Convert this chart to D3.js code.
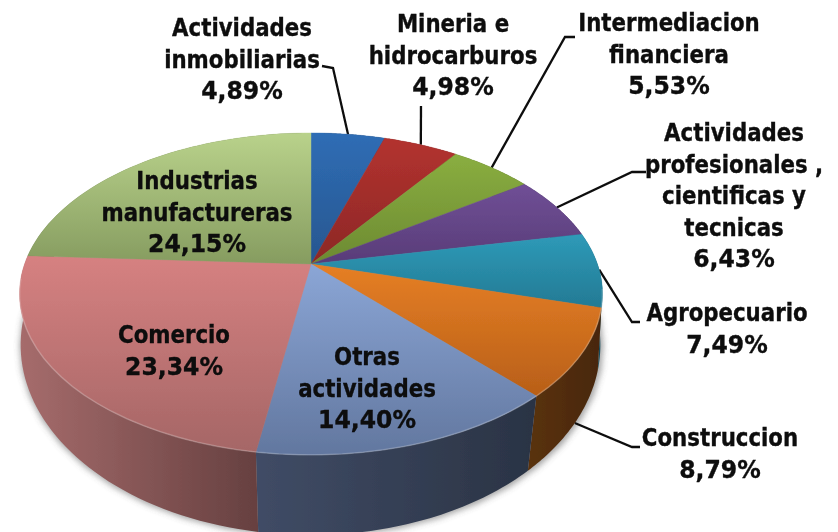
<!DOCTYPE html>
<html><head><meta charset="utf-8">
<script src="https://cdnjs.cloudflare.com/ajax/libs/d3/7.8.5/d3.min.js"></script>
<style>html,body{margin:0;padding:0;background:#fff;overflow:hidden}svg{display:block}
text{font-family:"DejaVu Sans",sans-serif;font-weight:bold;fill:#0b0b0b;stroke:#0b0b0b;stroke-width:.35}</style></head>
<body><svg id="c" width="838" height="532"></svg>
<script>
const categories=[["Actividades","inmobiliarias"],["Mineria e","hidrocarburos"],["Intermediacion","financiera"],["Actividades","profesionales ,","cientificas y","tecnicas"],["Agropecuario"],["Construccion"],["Otras","actividades"],["Comercio"],["Industrias","manufactureras"]];
const values=[4.89,4.98,5.53,6.43,7.49,8.79,14.40,23.34,24.15];
const topLight=["#2f6db5","#b3322f","#8aae40","#704f96","#2e9ab8","#e67f25","#8ba6d6","#d68181","#b9d28b"];
const topDark=["#27568f","#8c2826","#6c8a32","#583c78","#237a94","#b85f18","#62779f","#a56666","#869c60"];
const sideLight=["#1d3657","#5a1a18","#45581f","#38264c","#164d5e","#5a3210","#404c66","#a66c6c","#5b6a41"];
const sideDark=["#1d3657","#5a1a18","#45581f","#38264c","#164d5e","#48270b","#2a3344","#664040","#5b6a41"];
const labelX=[242,453,669,734,727,720,367,174,197];
const labelY=[36,32,31,141,321,446,365,343,189];
const elbows=[[[322,66],[333,68]],[[421,106]],[[575,37],[565,37]],[[646,172],[632,172]],[[640,322],[632,322]],[[640,447],[632,447]],null,null,null];
const anchorOnBase=[false,false,false,false,false,true,false,false,false];

const svg=d3.select("#c"),defs=svg.append("defs");
const topFace={cx:311,cy:264,R:286.4,S:155.4,k:0.186};
const baseFace={cx:310.5,cy:318.4,R:287,S:186.3,k:0.14};
const project=(f,a)=>{const x=Math.sin(a),y=-Math.cos(a),w=1-f.k*y;return [f.cx+f.R*x/w,f.cy+f.S*y/w];};
const sample=(a0,a1)=>d3.range(0,1.0001,1/48).map(t=>a0+(a1-a0)*t);
const line=d3.line();
const arcs=d3.pie().sort(null).value(d=>d)(values);

defs.append("filter").attr("id","soft").attr("x","-5%").attr("y","-5%").attr("width","110%").attr("height","110%")
  .append("feGaussianBlur").attr("stdDeviation",0.45);
defs.append("filter").attr("id","shadow").attr("x","-10%").attr("y","-10%").attr("width","120%").attr("height","120%")
  .append("feGaussianBlur").attr("stdDeviation",3);

arcs.forEach((d,i)=>{
  const g=defs.append("linearGradient").attr("id","t"+i).attr("x1",0).attr("y1",0).attr("x2",0).attr("y2",1);
  g.append("stop").attr("offset",0).attr("stop-color",topLight[i]);
  g.append("stop").attr("offset",1).attr("stop-color",topDark[i]);
  const s=defs.append("linearGradient").attr("id","s"+i).attr("x1",0).attr("y1",0).attr("x2",1).attr("y2",0);
  s.append("stop").attr("offset",0).attr("stop-color",sideLight[i]);
  s.append("stop").attr("offset",1).attr("stop-color",sideDark[i]);
});

const root=svg.append("g").attr("filter","url(#soft)");
// soft shadow beyond the rim
root.append("path").attr("d",line(sample(0,2*Math.PI).map(a=>{const p=project(baseFace,a);return [p[0]+(p[0]>311?3:-1),p[1]+2];}))+"Z")
  .attr("fill","#666").attr("opacity",.6).attr("filter","url(#shadow)");

// leader lines
const leaders=root.append("g");
arcs.forEach((d,i)=>{
  if(!elbows[i])return;
  const mid=(d.startAngle+d.endAngle)/2;
  const a=project(anchorOnBase[i]?baseFace:topFace,mid);
  leaders.append("path").attr("d",line([...elbows[i],a])).attr("fill","none").attr("stroke","#111").attr("stroke-width",2.3);
});

// side wall
arcs.forEach((d,i)=>{
  const as=sample(d.startAngle,d.endAngle);
  const pts=as.map(a=>project(topFace,a)).concat(as.slice().reverse().map(a=>project(baseFace,a)));
  root.append("path").attr("d",line(pts)+"Z").attr("fill",`url(#s${i})`);
});
// top surface
arcs.forEach((d,i)=>{
  const pts=[[topFace.cx,topFace.cy],...sample(d.startAngle,d.endAngle).map(a=>project(topFace,a))];
  root.append("path").attr("d",line(pts)+"Z").attr("fill",`url(#t${i})`).attr("stroke",`url(#t${i})`).attr("stroke-width",.4);
});
// bevel highlight along the near rim
root.append("path").attr("d",line(sample(Math.PI*0.55,Math.PI*1.47).map(a=>project(topFace,a))))
  .attr("fill","none").attr("stroke","#fff").attr("stroke-opacity",.2).attr("stroke-width",1.6);

// labels
const xs=0.87, xsPct=0.96, lh=31.5;
const labels=root.append("g");
arcs.forEach((d,i)=>{
  const g=labels.append("g").attr("transform",`translate(${labelX[i]},${labelY[i]})`);
  const rows=categories[i];
  rows.forEach((r,j)=>g.append("text").attr("transform",`translate(0,${j*lh}) scale(${xs},1)`).attr("text-anchor","middle").attr("font-size",24.5).attr("xml:space","preserve").text(r));
  g.append("text").attr("transform",`translate(0,${rows.length*lh}) scale(${xsPct},1)`).attr("text-anchor","middle").attr("font-size",24.5).text(values[i].toFixed(2).replace(".",",")+"%");
});
</script></body></html>
